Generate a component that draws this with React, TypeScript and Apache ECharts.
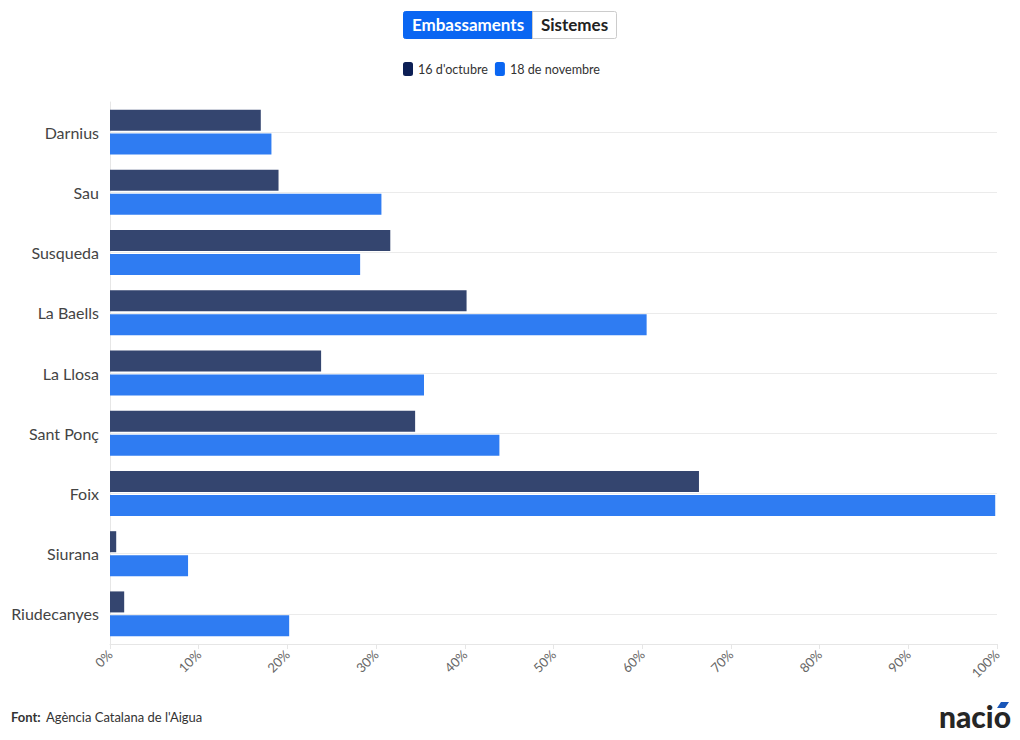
import React, { useEffect, useRef } from "react";
import * as echarts from "echarts";

const categories = ["Darnius", "Sau", "Susqueda", "La Baells", "La Llosa", "Sant Ponç", "Foix", "Siurana", "Riudecanyes"];
const seriesNames = ["16 d'octubre", "18 de novembre"];
const octValues = [17.0, 19.0, 31.6, 40.2, 23.8, 34.4, 66.4, 0.7, 1.6];
const novValues = [18.2, 30.6, 28.2, 60.5, 35.4, 43.9, 99.8, 8.8, 20.2];
const tabLabels = ["Embassaments", "Sistemes"];
const sourceLabel = "Font:";
const sourceText = "Agència Catalana de l'Aigua";

const FONT = "Lato, 'Noto Sans', sans-serif";

export default function App() {
  const ref = useRef<HTMLDivElement>(null);
  useEffect(() => {
    if (!ref.current) return;
    const chart = echarts.init(ref.current, undefined, { renderer: "svg" });
    chart.setOption({
      animation: false,
      backgroundColor: "#ffffff",
      textStyle: { fontFamily: FONT },
      legend: {
        top: 62,
        left: 403,
        icon: "roundRect",
        itemWidth: 10,
        itemHeight: 14,
        itemGap: 7,
        padding: 0,
        textStyle: { fontSize: 12.6, color: "#333333", fontFamily: FONT },
        data: [
          { name: seriesNames[0], itemStyle: { color: "#0c1f55" } },
          { name: seriesNames[1], itemStyle: { color: "#0a66f2" } },
        ],
        selectedMode: false,
      },
      grid: { left: 110, right: 23, top: 102, bottom: 96 },
      xAxis: {
        type: "value",
        min: 0,
        max: 100,
        interval: 10,
        axisLine: { show: true, lineStyle: { color: "#e6e6e6" } },
        axisTick: { show: true, length: 5, lineStyle: { color: "#e6e6e6" } },
        splitLine: { show: false },
        axisLabel: {
          formatter: "{value}%",
          rotate: 45,
          fontSize: 13,
          color: "#666666",
          margin: 8,
          fontFamily: FONT,
        },
      },
      yAxis: {
        type: "category",
        data: categories,
        inverse: true,
        axisLine: { show: true, lineStyle: { color: "#e6e6e6" } },
        axisTick: { show: false },
        splitLine: { show: false },
        axisLabel: { fontSize: 16, color: "#444444", margin: 11, fontFamily: FONT },
      },
      series: [
        {
          name: "grid",
          type: "line",
          data: [],
          z: 1,
          silent: true,
          markLine: {
            silent: true,
            symbol: "none",
            label: { show: false },
            lineStyle: { color: "#ebebeb", width: 1, type: "solid" },
            data: categories.map((c) => ({ yAxis: c })),
          },
        },
        {
          name: seriesNames[0],
          type: "bar",
          data: octValues,
          barWidth: 21,
          barGap: "14%",
          z: 3,
          itemStyle: { color: "#34456f" },
        },
        {
          name: seriesNames[1],
          type: "bar",
          data: novValues,
          barWidth: 21,
          barGap: "14%",
          z: 3,
          itemStyle: { color: "#2f7cf2" },
        },
      ],
      graphic: [
        {
          type: "rect",
          shape: { x: 403.5, y: 11.5, width: 129, height: 27, r: [2, 0, 0, 2] },
          style: { fill: "#0a66f2", stroke: "#0a66f2", lineWidth: 1 },
        },
        {
          type: "rect",
          shape: { x: 532.5, y: 11.5, width: 84, height: 27, r: [0, 2, 2, 0] },
          style: { fill: "#ffffff", stroke: "#cccccc", lineWidth: 1 },
        },
        {
          type: "text",
          x: 468,
          y: 24,
          style: {
            text: tabLabels[0],
            fill: "#ffffff",
            font: `bold 17px ${FONT}`,
            align: "center",
            verticalAlign: "middle",
          },
        },
        {
          type: "text",
          x: 574.5,
          y: 24,
          style: {
            text: tabLabels[1],
            fill: "#222222",
            font: `bold 17px ${FONT}`,
            align: "center",
            verticalAlign: "middle",
          },
        },
        {
          type: "text",
          x: 11,
          y: 717,
          style: {
            text: sourceLabel,
            fill: "#333333",
            font: `bold 13px ${FONT}`,
            verticalAlign: "middle",
          },
        },
        {
          type: "text",
          x: 46,
          y: 717,
          style: {
            text: sourceText,
            fill: "#333333",
            font: `13px ${FONT}`,
            verticalAlign: "middle",
          },
        },
        {
          type: "text",
          x: 1011,
          y: 716,
          style: {
            text: "nacio",
            fill: "#262626",
            font: `900 30px ${FONT}`,
            align: "right",
            verticalAlign: "middle",
          },
        },
        {
          type: "polygon",
          shape: { points: [[1001, 702], [1009, 702], [1005, 708], [997, 708]] },
          style: { fill: "#1a56b8" },
        },
      ],
    });
    return () => chart.dispose();
  }, []);
  return (
    <div
      ref={ref}
      style={{ position: "fixed", left: 0, top: 0, width: 1020, height: 740 }}
    />
  );
}
